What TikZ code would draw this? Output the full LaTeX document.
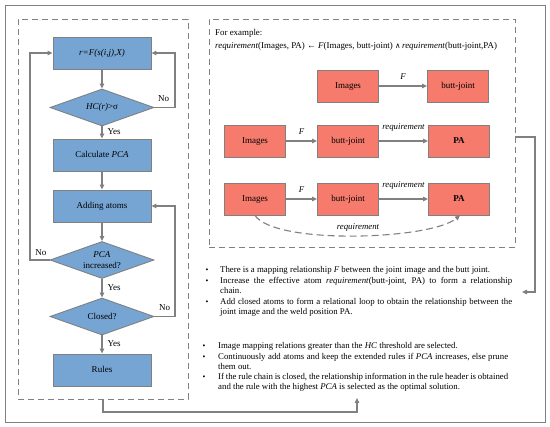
\documentclass[tikz,border=0pt]{standalone}
\usepackage{fontspec}
\setmainfont{Liberation Serif}
\newfontfamily\symf{DejaVu Serif}
\usetikzlibrary{shapes.geometric,arrows.meta}
\definecolor{fblue}{HTML}{76A5D4}
\definecolor{fred}{HTML}{F67B6C}
\definecolor{lgray}{HTML}{808080}
\begin{document}
\begin{tikzpicture}[x=1pt,y=-1pt,
  flow/.style={draw=lgray,line width=0.9pt,fill=fblue,minimum width=98,minimum height=32,inner sep=0,text height=6.5pt,text depth=2pt,font=\fontsize{9}{10.5}\selectfont},
  dec/.style={draw=lgray,line width=0.9pt,fill=fblue,shape=diamond,aspect=2.8,minimum width=104,minimum height=37,inner sep=0,align=center,font=\fontsize{9}{10.5}\selectfont},
  rbox/.style={draw=lgray,line width=0.9pt,fill=fred,minimum width=61,minimum height=32,inner sep=0,text height=6.5pt,text depth=2pt,font=\fontsize{9}{10.5}\selectfont},
  frame/.style={draw=lgray,line width=0.9pt,dash pattern=on 6pt off 4pt},
  conn/.style={draw=lgray,line width=1.1pt,-{Triangle[length=5pt,width=4.5pt]}},
  lbl/.style={inner sep=0,font=\fontsize{9}{10.5}\selectfont},
  ilbl/.style={inner sep=0,font=\fontsize{8.8}{10}\selectfont\itshape},
  btext/.style={anchor=north west,inner sep=0,text width=292,align=justify,font=\fontsize{8.8}{10.5}\selectfont},
  bdot/.style={inner sep=0,font=\fontsize{8}{10.5}\selectfont}
]
\useasboundingbox (0,0) rectangle (550,427);
\fill[white] (0,0) rectangle (550,427);
\node[draw=lgray,line width=0.9pt,minimum width=540,minimum height=417,inner sep=0] (outer) at (275,213.5) {};
\node[frame,minimum width=170,minimum height=380,inner sep=0] (lframe) at (103,209) {};
\node[frame,minimum width=306,minimum height=228,inner sep=0] (rframe) at (362,133) {};

% flowchart
\node[flow] (b1) at (102,53) {\itshape r=F(s(i,j),X)};
\node[dec] (d1) at (102,107.5) {\itshape HC(r)\upshape>σ};
\node[flow] (b2) at (102,155) {Calculate \textit{PCA}};
\node[flow] (b3) at (102,206) {Adding atoms};
\node[dec] (d2) at (102,260) {\textit{PCA}\\increased?};
\node[dec] (d3) at (102,316.5) {Closed?};
\node[flow] (b4) at (102,370) {Rules};

\draw[conn] (b1) -- (d1);
\draw[conn] (d1) -- (b2) node[lbl,pos=0.45,anchor=west,xshift=5pt] (y1) {Yes};
\draw[conn] (b2) -- (b3);
\draw[conn] (b3) -- (d2);
\draw[conn] (d2) -- (d3) node[lbl,pos=0.45,anchor=west,xshift=5pt] (y2) {Yes};
\draw[conn] (d3) -- (b4) node[lbl,pos=0.45,anchor=west,xshift=5pt] (y3) {Yes};
\draw[conn] (d1.east) -- (175,107.5) node[lbl,pos=0.45,above=5pt] (n1) {No} |- (b1.east);
\draw[conn] (d2.west) -- (30,260) node[lbl,pos=0.45,above=4pt] (n2) {No} |- (b1.west);
\draw[conn] (d3.east) -- (175,316.5) node[lbl,pos=0.5,above=5pt] (n3) {No} |- (b3.east);

% example
\node[anchor=west,inner sep=0,font=\fontsize{8.9}{10.5}\selectfont] (ex1) at (215,33) {For example:};
\node[anchor=west,inner sep=0,font=\fontsize{8.9}{10.5}\selectfont] (ex2) at (215,46) {\textit{requirement}(Images, PA) ← \textit{F}(Images, butt-joint) {\symf\fontsize{7.5}{10}\selectfont ∧}\,\textit{requirement}(butt-joint,PA)};

\node[rbox] (i1) at (348,86) {Images};
\node[rbox] (j1) at (458,86) {butt-joint};
\node[rbox] (i2) at (255,141) {Images};
\node[rbox] (j2) at (348,141) {butt-joint};
\node[rbox] (p2) at (459,141) {\textbf{PA}};
\node[rbox] (i3) at (255,199) {Images};
\node[rbox] (j3) at (348,199) {butt-joint};
\node[rbox] (p3) at (459,199) {\textbf{PA}};

\draw[conn] (i1) -- (j1) node[ilbl,midway,above=6pt] (f1) {F};
\draw[conn] (i2) -- (j2) node[ilbl,midway,above=6pt] (f2) {F};
\draw[conn] (j2) -- (p2) node[ilbl,midway,above=9pt] (r2) {requirement};
\draw[conn] (i3) -- (j3) node[ilbl,midway,above=6pt] (f3) {F};
\draw[conn] (j3) -- (p3) node[ilbl,midway,above=9pt] (r3) {requirement};
\draw[conn,dash pattern=on 7pt off 4pt] (i3.south) .. controls (275,245) and (430,240) .. ([xshift=1pt]p3.south);
\node[ilbl] (r4) at (358,228) {requirement};

% bullets group 1
\node[bdot] (bd1) at (207,271) {•};
\node[btext] (t1) at (220,266.5) {There is a mapping relationship \textit{F} between the joint image and the butt joint.};
\node[bdot] (bd2) at (207,282) {•};
\node[btext] (t2) at (220,277) {Increase the effective atom \textit{requirement}(butt-joint, PA) to form a relationship\linebreak chain.};
\node[bdot] (bd3) at (207,303) {•};
\node[btext] (t3) at (220,298) {Add closed atoms to form a relational loop to obtain the relationship between the joint image and the weld position PA.};

% bullets group 2
\node[bdot] (be1) at (204,347) {•};
\node[btext,text width=290] (s1) at (218,342) {Image mapping relations greater than the \textit{HC} threshold are selected.};
\node[bdot] (be2) at (204,358) {•};
\node[btext,text width=290] (s2) at (218,353) {Continuously add atoms and keep the extended rules if \textit{PCA} increases, else prune them out.};
\node[bdot] (be3) at (204,378) {•};
\node[btext,text width=290] (s3) at (218,373) {If the rule chain is closed, the relationship information in the rule header is obtained and the rule with the highest \textit{PCA} is selected as the optimal solution.};

% outer connectors
\coordinate (c1) at (357,398);
\coordinate (c2) at (522,292);
\draw[conn] (lframe.south) -- (103,412) -| (c1);
\draw[conn] (rframe.east |- 0,137) -- (535,137) |- (c2);
\end{tikzpicture}
\end{document}
